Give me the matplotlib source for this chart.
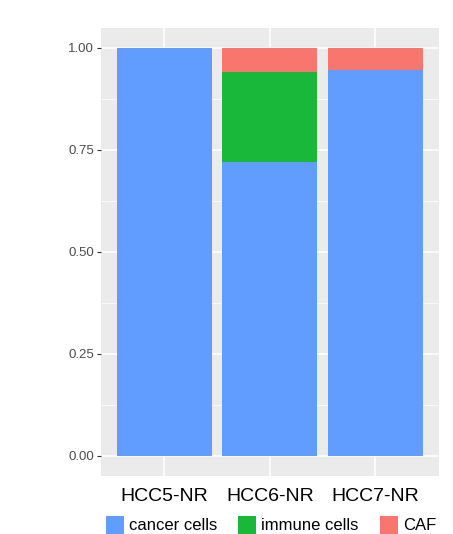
import matplotlib
matplotlib.use("Agg")
import matplotlib.pyplot as plt
from matplotlib.patches import Rectangle
import numpy as np

# Fractions of cell types per sample
samples = ["HCC5-NR", "HCC6-NR", "HCC7-NR"]
cell_types = ["cancer cells", "immune cells", "CAF"]
cancer = [1.00, 0.72, 0.946]
immune = [0.00, 0.221, 0.00]
caf = [0.00, 0.059, 0.054]
yticks = [0.00, 0.25, 0.50, 0.75, 1.00]

COLORS = {"cancer cells": "#619CFF", "immune cells": "#1AB83A", "CAF": "#F8766D"}

plt.rcParams["font.family"] = ["Liberation Sans", "DejaVu Sans"]

W, H = 453, 534
fig = plt.figure(figsize=(W / 100, H / 100), dpi=100)
ax = fig.add_axes([101 / W, (H - 476.4) / H, (438.8 - 101) / W, (476.4 - 27.6) / H])

ax.set_facecolor("#EBEBEB")
for s in ax.spines.values():
    s.set_visible(False)

x = np.arange(len(samples))
values = [cancer, immune, caf]
bottom = np.zeros(len(samples))
for name, vals in zip(cell_types, values):
    ax.bar(x, vals, width=0.9, bottom=bottom, color=COLORS[name], zorder=3,
           linewidth=0)
    bottom += np.array(vals)

ax.set_xlim(-0.6, len(samples) - 0.4)
ax.set_ylim(-0.05, 1.05)

ax.set_yticks(yticks)
ax.set_yticklabels([f"{v:.2f}" for v in yticks], fontsize=9.5, color="#4D4D4D")
ax.set_yticks(np.arange(0.125, 1.0, 0.25), minor=True)
ax.set_xticks(x)
ax.set_xticklabels(samples, fontsize=14, color="black")

ax.tick_params(axis="y", which="major", length=3, width=0.8, color="#333333", pad=2)
ax.tick_params(axis="y", which="minor", length=0)
ax.tick_params(axis="x", length=0, pad=8)

ax.grid(True, which="major", color="white", linewidth=1.1, zorder=1)
ax.grid(True, which="minor", axis="y", color="white", linewidth=0.5, zorder=1)
ax.set_axisbelow(True)

# Legend at the bottom edge
key_x = [106, 238, 380]
for kx, name in zip(key_x, cell_types):
    fig.patches.append(Rectangle((kx / W, (H - 534) / H), 18 / W, 18 / H,
                                 transform=fig.transFigure, facecolor=COLORS[name],
                                 edgecolor="none"))
    fig.text((kx + 23) / W, (H - 525) / H, name, fontsize=12, va="center",
             ha="left", color="black")

fig.savefig("out.png", dpi=100, facecolor="white")
